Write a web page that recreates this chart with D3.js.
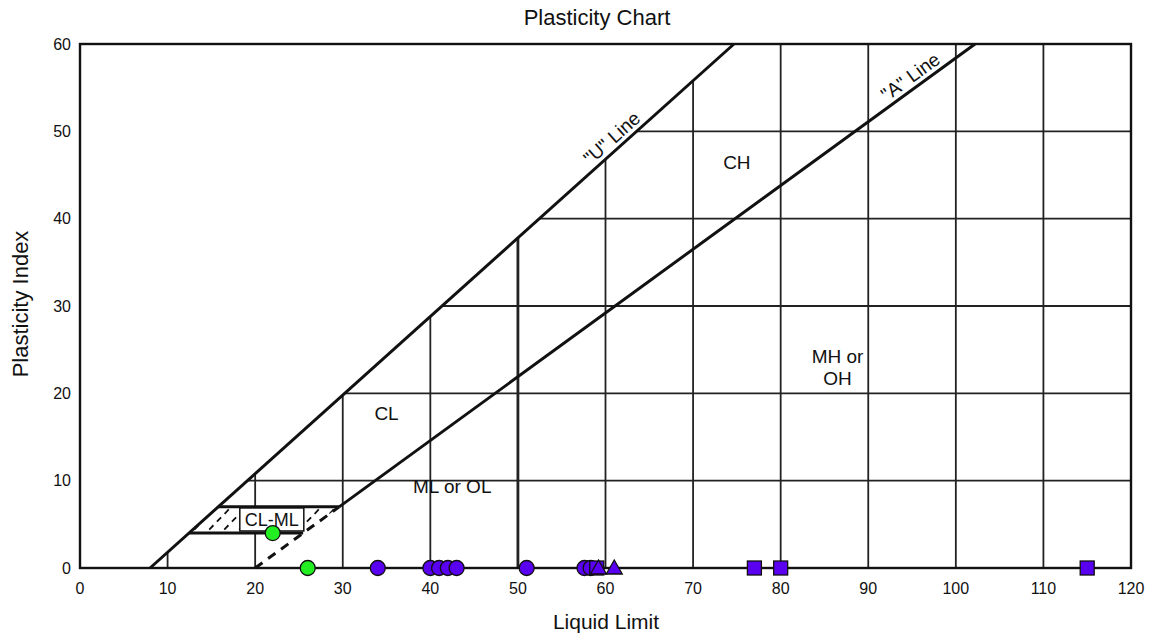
<!DOCTYPE html>
<html>
<head>
<meta charset="utf-8">
<script src="https://cdn.jsdelivr.net/npm/d3@7"></script>
<style>
  html, body { margin: 0; padding: 0; background: #fff; }
  text { font-family: "Liberation Sans", Arial, sans-serif; fill: #111; }
</style>
</head>
<body>
<svg id="chart" width="1150" height="636"></svg>
<script>
// ---- data ----
const xTicks = [0, 10, 20, 30, 40, 50, 60, 70, 80, 90, 100, 110, 120];
const yTicks = [0, 10, 20, 30, 40, 50, 60];
const greenLL = [22, 26];
const greenPI = [4, 0];
const circleLL = [34, 40, 41, 42, 43, 51, 57.6, 58.3];
const circlePI = [0, 0, 0, 0, 0, 0, 0, 0];
const squareLL = [59, 77, 80, 115];
const squarePI = [0, 0, 0, 0];
const triangleLL = [59.2, 61];
const trianglePI = [0, 0];
const zoneLabels = [
  { t: ["CL"], ll: 35, pi: 17.7 },
  { t: ["CH"], ll: 75, pi: 46.5 },
  { t: ["ML or OL"], ll: 42.5, pi: 9.4 },
  { t: ["MH or", "OH"], ll: 86.5, pi: 24.3 }
];

const svg = d3.select("#chart");
const x = d3.scaleLinear().domain([0, 120]).range([80, 1131]);
const y = d3.scaleLinear().domain([0, 60]).range([568, 44]);
const U = ll => 0.9 * (ll - 8);
const Uinv = pi => pi / 0.9 + 8;
const A = ll => 0.73 * (ll - 20);
const Ainv = pi => pi / 0.73 + 20;
const line = d3.line().x(d => x(d[0])).y(d => y(d[1]));

// grid: vertical lines clipped by U line
const g = svg.append("g");
xTicks.filter(v => v > 0 && v < 120).forEach(v => {
  g.append("line")
    .attr("x1", x(v)).attr("x2", x(v))
    .attr("y1", y(0)).attr("y2", y(Math.min(60, Math.max(0, U(v)))))
    .attr("stroke", "#222").attr("stroke-width", v === 50 ? 2.8 : 1.8);
});
yTicks.filter(v => v > 0 && v < 60).forEach(v => {
  g.append("line")
    .attr("x1", x(Uinv(v))).attr("x2", x(120))
    .attr("y1", y(v)).attr("y2", y(v))
    .attr("stroke", "#222").attr("stroke-width", 1.8);
});

// CL-ML zone
const defs = svg.append("defs");
const par = [[Uinv(4), 4], [Ainv(4), 4], [Ainv(7), 7], [Uinv(7), 7]];
defs.append("clipPath").attr("id", "clml").append("path").attr("d", line(par) + "Z");
svg.append("path").attr("d", line(par) + "Z").attr("fill", "#fff");
const hatch = svg.append("g").attr("clip-path", "url(#clml)");
for (let k = 0; k < 12; k++) {
  const x0 = x(10) + 4 + k * 15;
  hatch.append("line")
    .attr("x1", x0).attr("y1", y(3.5))
    .attr("x2", x0 + 34).attr("y2", y(7.5))
    .attr("stroke", "#111").attr("stroke-width", 1.8)
    .attr("stroke-dasharray", "6,5");
}
svg.append("line").attr("x1", x(Uinv(7))).attr("x2", x(Ainv(7))).attr("y1", y(7)).attr("y2", y(7))
  .attr("stroke", "#111").attr("stroke-width", 3);
svg.append("line").attr("x1", x(Uinv(4))).attr("x2", x(Ainv(4))).attr("y1", y(4)).attr("y2", y(4))
  .attr("stroke", "#111").attr("stroke-width", 3);

// U line and A line
svg.append("path").attr("d", line([[8, 0], [Uinv(60), 60]]))
  .attr("stroke", "#111").attr("stroke-width", 3).attr("fill", "none");
svg.append("path").attr("d", line([[Ainv(7), 7], [Ainv(60), 60]]))
  .attr("stroke", "#111").attr("stroke-width", 3).attr("fill", "none");
svg.append("path").attr("d", line([[20, 0], [Ainv(7), 7]]))
  .attr("stroke", "#111").attr("stroke-width", 3).attr("fill", "none")
  .attr("stroke-dasharray", "9,7");

// CL-ML label
const lab = svg.append("g").attr("transform", `translate(${x(21.9)},${y(5.5)})`);
lab.append("rect").attr("x", -32).attr("y", -12).attr("width", 64).attr("height", 23)
  .attr("fill", "#fff").attr("stroke", "#111").attr("stroke-width", 1.5);
lab.append("text").attr("text-anchor", "middle").attr("dy", "0.36em")
  .style("font-size", "18px").text("CL-ML");

// frame
svg.append("rect").attr("x", x(0)).attr("y", y(60)).attr("width", x(120) - x(0)).attr("height", y(0) - y(60))
  .attr("fill", "none").attr("stroke", "#111").attr("stroke-width", 2.4);

// line labels
function lineLabel(txt, ll, pi, slope) {
  const ang = Math.atan2(y(slope) - y(0), x(1) - x(0)) * 180 / Math.PI;
  svg.append("text")
    .attr("transform", `translate(${x(ll)},${y(pi)}) rotate(${ang})`)
    .attr("text-anchor", "middle").attr("dy", "-5")
    .style("font-size", "19px").text(txt);
}
lineLabel('"U" Line', 61.6, U(61.6), 0.9);
lineLabel('"A" Line', 95.6, A(95.6), 0.73);

// zone labels
zoneLabels.forEach(z => {
  const t = svg.append("text").attr("x", x(z.ll)).attr("y", y(z.pi)).attr("text-anchor", "middle")
    .style("font-size", "19px");
  z.t.forEach((s, i) => t.append("tspan").attr("x", x(z.ll)).attr("dy", i === 0 ? "0.36em" : "1.2em").text(s));
});

// axes tick labels
svg.append("g").selectAll("text").data(xTicks).join("text")
  .attr("x", d => x(d)).attr("y", 594).attr("text-anchor", "middle")
  .style("font-size", "16px").text(d => d);
svg.append("g").selectAll("text").data(yTicks).join("text")
  .attr("x", 71).attr("y", d => y(d)).attr("dy", "0.36em").attr("text-anchor", "end")
  .style("font-size", "16px").text(d => d);

// titles
svg.append("text").attr("x", 597).attr("y", 25).attr("text-anchor", "middle")
  .style("font-size", "22px").text("Plasticity Chart");
svg.append("text").attr("x", 606).attr("y", 629).attr("text-anchor", "middle")
  .style("font-size", "21px").text("Liquid Limit");
svg.append("text").attr("transform", "translate(28,304) rotate(-90)").attr("text-anchor", "middle")
  .style("font-size", "22px").text("Plasticity Index");

// data points
const purple = "#5a00f0";
const pts = svg.append("g");
pts.selectAll(".cg").data(greenLL.map((v, i) => [v, greenPI[i]])).join("circle")
  .attr("cx", d => x(d[0])).attr("cy", d => y(d[1])).attr("r", 7.5)
  .attr("fill", "#22ee22").attr("stroke", "#111").attr("stroke-width", 1.3);
pts.selectAll(".cp").data(circleLL.map((v, i) => [v, circlePI[i]])).join("circle")
  .attr("cx", d => x(d[0])).attr("cy", d => y(d[1])).attr("r", 7.5)
  .attr("fill", purple).attr("stroke", "#111").attr("stroke-width", 1.3);
pts.selectAll(".sq").data(squareLL.map((v, i) => [v, squarePI[i]])).join("rect")
  .attr("x", d => x(d[0]) - 7).attr("y", d => y(d[1]) - 7).attr("width", 14).attr("height", 14)
  .attr("fill", purple).attr("stroke", "#111").attr("stroke-width", 1.3);
pts.selectAll(".tr").data(triangleLL.map((v, i) => [v, trianglePI[i]])).join("path")
  .attr("d", d => `M${x(d[0])},${y(d[1]) - 8}L${x(d[0]) + 8},${y(d[1]) + 6}L${x(d[0]) - 8},${y(d[1]) + 6}Z`)
  .attr("fill", purple).attr("stroke", "#111").attr("stroke-width", 1.3);
</script>
</body>
</html>
